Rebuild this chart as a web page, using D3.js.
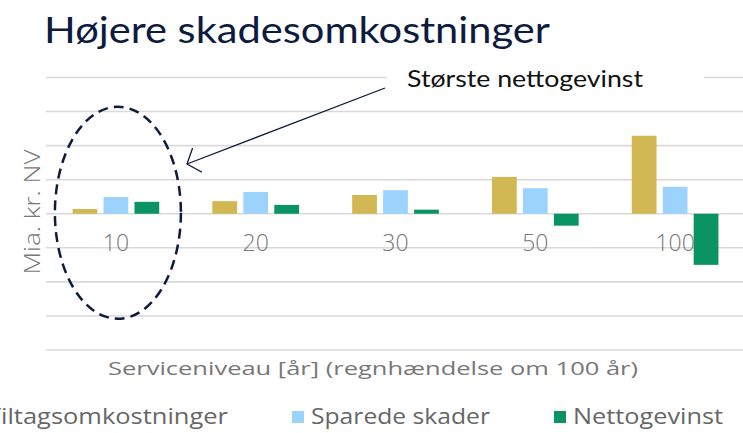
<!DOCTYPE html>
<html>
<head>
<meta charset="utf-8">
<script src="https://cdn.jsdelivr.net/npm/d3@7"></script>
<style>
  html, body { margin: 0; padding: 0; background: #fff; overflow: hidden; }
  text { font-family: Lato, "Open Sans", sans-serif; }
  text.soft { font-family: "Open Sans", Lato, sans-serif; }
</style>
</head>
<body>
<div id="chart"></div>
<script>
// service levels (return period in years)
const categories = ['10', '20', '30', '50', '100'];
const seriesNames = ['Tiltagsomkostninger', 'Sparede skader', 'Nettogevinst'];
const tiltag = [0.14, 0.37, 0.55, 1.08, 2.29];
const sparede = [0.49, 0.64, 0.69, 0.75, 0.79];
const netto = [0.35, 0.26, 0.12, -0.35, -1.5];
const colors = ['#d1b852', '#9bd3fd', '#0a9463'];

const width = 743, height = 433;
const navy = '#0d1b3e';
const grey = '#777777';

const svg = d3.select('#chart').append('svg')
    .attr('width', width)
    .attr('height', height);

const rows = categories.map((c, i) => ({
    cat: c,
    values: [tiltag[i], sparede[i], netto[i]]
}));

const x0 = d3.scaleBand()
    .domain(categories)
    .range([46, 745])
    .paddingInner(0.38)
    .paddingOuter(0.19);

const x1 = d3.scaleBand()
    .domain(d3.range(seriesNames.length))
    .range([0, x0.bandwidth()])
    .paddingInner(0.2);

const y = d3.scaleLinear()
    .domain([-4, 4])
    .range([350, 77.5]);

// gridlines
svg.append('g')
    .selectAll('line')
    .data(y.ticks(8))
    .join('line')
    .attr('x1', 46)
    .attr('x2', width)
    .attr('y1', d => y(d))
    .attr('y2', d => y(d))
    .attr('stroke', '#d9d9d9')
    .attr('stroke-width', 1.6);

// category labels sit inside the plot, below zero
svg.append('g')
    .selectAll('text')
    .data(categories)
    .join('text')
    .attr('class', 'soft')
    .attr('x', d => x0(d) + x0.bandwidth() / 2)
    .attr('y', 251)
    .attr('text-anchor', 'middle')
    .attr('fill', grey)
    .attr('font-size', 23)
    .attr('font-weight', 300)
    .text(d => d);

// bars
const groups = svg.append('g')
    .selectAll('g')
    .data(rows)
    .join('g')
    .attr('transform', d => `translate(${x0(d.cat)},0)`);

groups.selectAll('rect')
    .data(d => d.values.map((v, k) => ({ k, v })))
    .join('rect')
    .attr('x', d => x1(d.k))
    .attr('width', x1.bandwidth())
    .attr('y', d => y(Math.max(0, d.v)))
    .attr('height', d => Math.abs(y(d.v) - y(0)))
    .attr('fill', d => colors[d.k]);

// dashed ellipse round the 10-year group
svg.append('ellipse')
    .attr('cx', x0('10') + x0.bandwidth() / 2 + 2)
    .attr('cy', y(0) - 1)
    .attr('rx', 63)
    .attr('ry', 106)
    .attr('fill', 'none')
    .attr('stroke', navy)
    .attr('stroke-width', 2.5)
    .attr('stroke-dasharray', '10 6');

// arrow
svg.append('defs').append('marker')
    .attr('id', 'arrow')
    .attr('viewBox', '0 -14 12 28')
    .attr('refX', 11)
    .attr('refY', 0)
    .attr('markerWidth', 12)
    .attr('markerHeight', 28)
    .attr('markerUnits', 'userSpaceOnUse')
    .attr('orient', 'auto')
    .append('path')
    .attr('d', 'M0,-13L11,0L0,13')
    .attr('fill', 'none')
    .attr('stroke', navy)
    .attr('stroke-width', 1.3);

svg.append('line')
    .attr('x1', 385)
    .attr('y1', 88)
    .attr('x2', 187)
    .attr('y2', 164)
    .attr('stroke', navy)
    .attr('stroke-width', 1.3)
    .attr('marker-end', 'url(#arrow)');

// annotation text box
svg.append('rect')
    .attr('x', 387)
    .attr('y', 66)
    .attr('width', 317)
    .attr('height', 22)
    .attr('fill', '#fff');

svg.append('text')
    .attr('x', 407)
    .attr('y', 87)
    .attr('fill', '#111')
    .attr('font-size', 23)
    .attr('textLength', 236)
    .attr('lengthAdjust', 'spacingAndGlyphs')
    .text('Største nettogevinst');

// title
svg.append('text')
    .attr('x', 44)
    .attr('y', 43)
    .attr('fill', navy)
    .attr('font-size', 37)
    .attr('textLength', 506)
    .attr('lengthAdjust', 'spacingAndGlyphs')
    .text('Højere skadesomkostninger');

// axis titles
svg.append('text')
    .attr('class', 'soft')
    .attr('transform', 'translate(40,212) rotate(-90)')
    .attr('text-anchor', 'middle')
    .attr('fill', grey)
    .attr('font-size', 22)
    .attr('font-weight', 300)
    .attr('textLength', 125)
    .attr('lengthAdjust', 'spacingAndGlyphs')
    .text('Mia. kr. NV');

svg.append('text')
    .attr('class', 'soft')
    .attr('x', 108)
    .attr('y', 375)
    .attr('fill', grey)
    .attr('font-size', 19)
    .attr('textLength', 530)
    .attr('lengthAdjust', 'spacingAndGlyphs')
    .text('Serviceniveau [år]  (regnhændelse om 100 år)');

// legend
const legendWidths = [241, 179, 150];
let lx = -32;
const legend = svg.append('g');
seriesNames.forEach((name, i) => {
    legend.append('rect')
        .attr('x', lx)
        .attr('y', 411)
        .attr('width', 12)
        .attr('height', 12)
        .attr('fill', colors[i]);
    legend.append('text')
        .attr('class', 'soft')
        .attr('x', lx + 19)
        .attr('y', 424)
        .attr('fill', '#666')
        .attr('font-size', 22)
        .attr('textLength', legendWidths[i])
        .attr('lengthAdjust', 'spacingAndGlyphs')
        .text(name);
    lx += 19 + legendWidths[i] + 64;
});
</script>
</body>
</html>
